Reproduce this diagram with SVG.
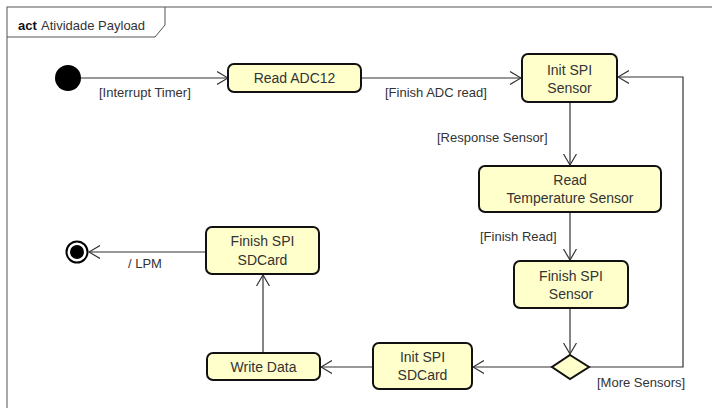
<svg xmlns="http://www.w3.org/2000/svg" width="712" height="408" viewBox="0 0 712 408">
<defs>
<marker id="arr" markerWidth="12" markerHeight="14" refX="11" refY="7" orient="auto" markerUnits="userSpaceOnUse">
<path d="M0,0.5 L11,7 L0,13.5" fill="none" stroke="#333" stroke-width="1.2"/>
</marker>
</defs>
<style>
.t{font-family:"Liberation Sans",Arial,sans-serif;font-size:13px;fill:#333}
.c{text-anchor:middle;font-size:14px}
.n{fill:#ffffcc;stroke:#111;stroke-width:2}
.e{fill:none;stroke:#333;stroke-width:1.2;marker-end:url(#arr)}
</style>
<rect width="712" height="408" fill="#fff"/>
<g id="frame">
<rect x="7" y="7" width="710" height="410" fill="none" stroke="#555" stroke-width="1"/>
<path d="M7,37 L155,37 L165,25 L165,7" fill="none" stroke="#555" stroke-width="1"/>
<text x="18" y="30" class="t" style="font-weight:bold;fill:#111">act</text>
<text x="41" y="30" class="t">Atividade Payload</text>
</g>
<g id="connectors">
<path class="e" d="M81,78 L228,78"/>
<path class="e" d="M361,78 L521,78"/>
<path class="e" d="M570,102 L570,165"/>
<path class="e" d="M570,212 L570,260"/>
<path class="e" d="M570,308 L570,354"/>
<path class="e" d="M589,367 L683,367 L683,77 L618,77"/>
<path class="e" d="M552,367 L473,367"/>
<path class="e" d="M373,367 L321,367"/>
<path class="e" d="M263,353 L263,275"/>
<path class="e" d="M206,252 L89,252"/>
<text x="99" y="97" class="t">[Interrupt Timer]</text>
<text x="385" y="97" class="t">[Finish ADC read]</text>
<text x="437" y="142" class="t">[Response Sensor]</text>
<text x="480" y="241" class="t">[Finish Read]</text>
<text x="597" y="387" class="t">[More Sensors]</text>
<text x="128" y="268" class="t">/ LPM</text>
</g>
<g id="start"><circle cx="68" cy="78" r="13" fill="#000"/></g>
<g id="readADC"><rect class="n" x="228" y="64" width="133" height="28" rx="6"/><text x="294.5" y="83" class="t c">Read ADC12</text></g>
<g id="initSensor"><rect class="n" x="522" y="54" width="95" height="48" rx="6"/><text x="569.5" y="75" class="t c">Init SPI</text><text x="569.5" y="93" class="t c">Sensor</text></g>
<g id="readTemp"><rect class="n" x="479" y="166" width="182" height="46" rx="6"/><text x="570" y="185" class="t c">Read</text><text x="570" y="203" class="t c">Temperature Sensor</text></g>
<g id="finishSensor"><rect class="n" x="514" y="261" width="114" height="47" rx="6"/><text x="571" y="281" class="t c">Finish SPI</text><text x="571" y="299" class="t c">Sensor</text></g>
<g id="decision"><path class="n" d="M570,355 L589,367 L570,379 L552,367 Z"/></g>
<g id="initSD"><rect class="n" x="373" y="343" width="99" height="46" rx="6"/><text x="422.5" y="362" class="t c">Init SPI</text><text x="422.5" y="380" class="t c">SDCard</text></g>
<g id="writeData"><rect class="n" x="207" y="353" width="113" height="27" rx="6"/><text x="263.5" y="371.5" class="t c">Write Data</text></g>
<g id="finishSD"><rect class="n" x="206" y="227" width="113" height="47" rx="6"/><text x="262.5" y="246" class="t c">Finish SPI</text><text x="262.5" y="265" class="t c">SDCard</text></g>
<g id="end"><circle cx="77" cy="252" r="10.5" fill="#fff" stroke="#000" stroke-width="2"/><circle cx="77" cy="252" r="7" fill="#000"/></g>
</svg>
